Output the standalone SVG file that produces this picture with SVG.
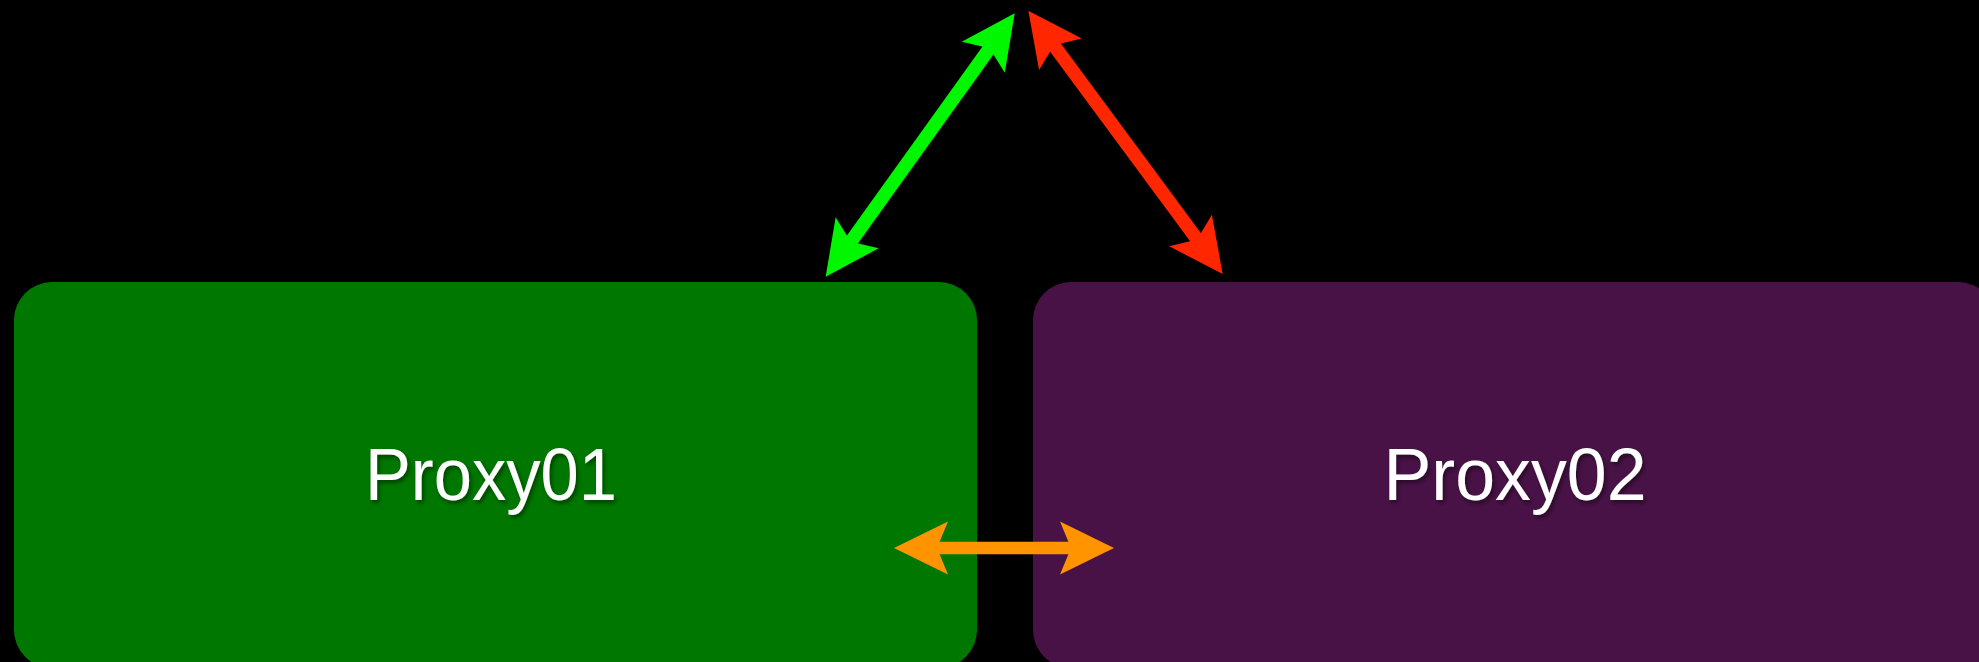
<svg xmlns="http://www.w3.org/2000/svg" width="1979" height="662" viewBox="0 0 1979 662">
<style>
.lbl{font-family:"Liberation Sans","Open Sans",sans-serif;font-size:74px;fill:#ffffff;text-anchor:middle;filter:url(#sh)}
.con{fill:none;stroke-linecap:butt}
</style>
<defs>
<filter id="sh" x="-10%" y="-20%" width="120%" height="150%">
<feDropShadow dx="2" dy="3" stdDeviation="2" flood-color="#000" flood-opacity="0.45"/>
</filter>
<marker id="hg" markerUnits="userSpaceOnUse" orient="auto-start-reverse" overflow="visible" refX="0" refY="0" markerWidth="1" markerHeight="1">
<path d="M40,0 L-14,-26.5 L-3,0 L-14,26.5 Z" fill="#00F700"/>
</marker>
<marker id="hr" markerUnits="userSpaceOnUse" orient="auto-start-reverse" overflow="visible" refX="0" refY="0" markerWidth="1" markerHeight="1">
<path d="M40,0 L-14,-26.5 L-3,0 L-14,26.5 Z" fill="#FF2600"/>
</marker>
<marker id="ho" markerUnits="userSpaceOnUse" orient="auto-start-reverse" overflow="visible" refX="0" refY="0" markerWidth="1" markerHeight="1">
<path d="M40,0 L-14,-26.5 L-3,0 L-14,26.5 Z" fill="#FF9300"/>
</marker>
</defs>
<rect width="1979" height="662" fill="#000000"/>
<g id="proxy01">
<rect x="14" y="282" width="963" height="386" rx="38" ry="38" fill="#007700"/>
<text class="lbl" x="491" y="500" textLength="252" lengthAdjust="spacingAndGlyphs">Proxy01</text>
</g>
<g id="proxy02">
<rect x="1033" y="282" width="963" height="386" rx="38" ry="38" fill="#481246"/>
<text class="lbl" x="1515" y="500" textLength="263" lengthAdjust="spacingAndGlyphs">Proxy02</text>
</g>
<g id="connectors">
<line class="con" x1="849" y1="244.2" x2="991.4" y2="45.8" stroke="#00F700" stroke-width="13.5" marker-start="url(#hg)" marker-end="url(#hg)"/>
<line class="con" x1="1052.1" y1="42.9" x2="1198.9" y2="241.8" stroke="#FF2600" stroke-width="13.5" marker-start="url(#hr)" marker-end="url(#hr)"/>
<line class="con" x1="934" y1="548" x2="1074" y2="548" stroke="#FF9300" stroke-width="12.5" marker-start="url(#ho)" marker-end="url(#ho)"/>
</g>
</svg>
